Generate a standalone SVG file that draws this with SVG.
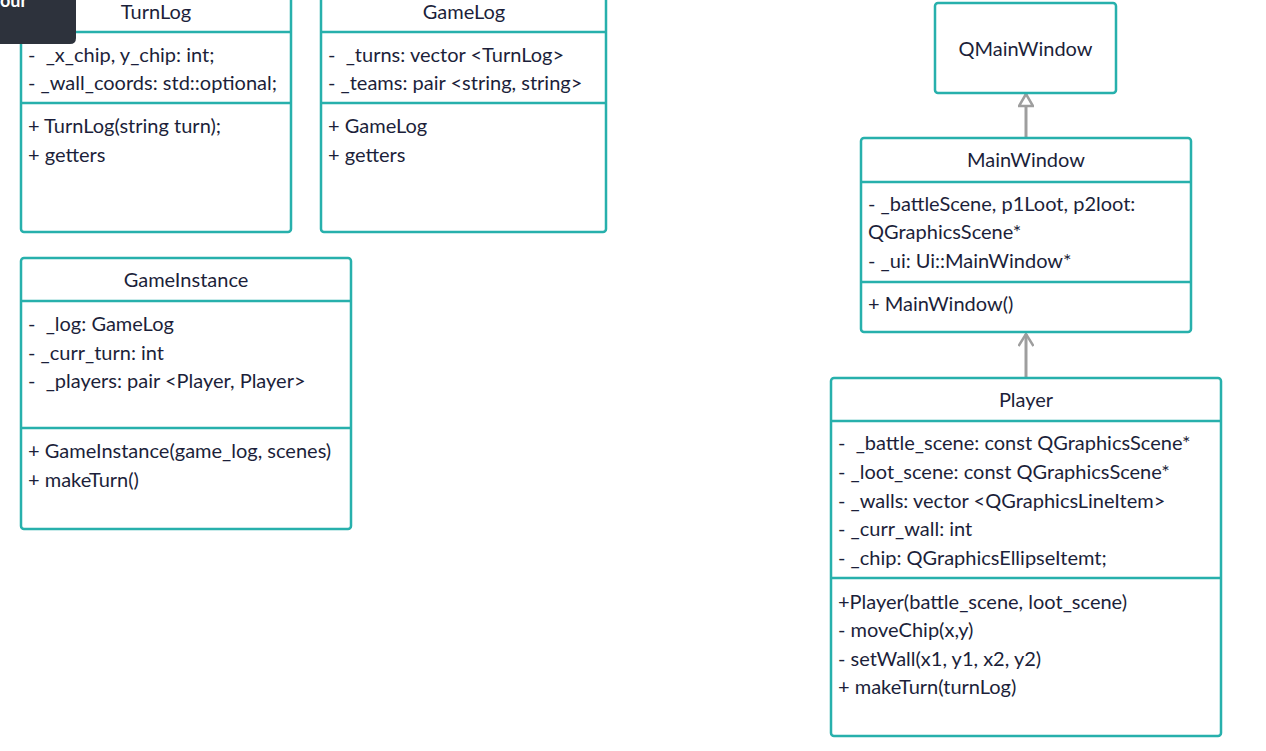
<svg xmlns="http://www.w3.org/2000/svg" width="1266" height="751" viewBox="0 0 1266 751">
<defs>
<style>
.box{fill:#fff;stroke:#27b0ac;stroke-width:2.5}
.sep{stroke:#27b0ac;stroke-width:2.5}
text{font-family:Lato,"Open Sans","Liberation Sans",sans-serif;font-size:20px;fill:#1c1f3a;white-space:pre}
.c{text-anchor:middle}
.conn{stroke:#9e9e9e;stroke-width:3;fill:none}
</style>
<marker id="tri" viewBox="0 0 16 16" refX="14" refY="8" markerWidth="16" markerHeight="16" markerUnits="userSpaceOnUse" orient="auto">
<path d="M14,8 L2,1 L2,15 Z" fill="#fff" stroke="#9e9e9e" stroke-width="2.5"/>
</marker>
<marker id="open" viewBox="0 0 16 16" refX="14" refY="8" markerWidth="16" markerHeight="16" markerUnits="userSpaceOnUse" orient="auto">
<path d="M2,0.5 L14,8 L2,15.5" fill="none" stroke="#9e9e9e" stroke-width="2.5"/>
</marker>
</defs>
<rect width="1266" height="751" fill="#fff"/>

<g id="connectors">
<line class="conn" x1="1026" y1="137" x2="1026" y2="94" marker-end="url(#tri)"/>
<line class="conn" x1="1026" y1="377" x2="1026" y2="334" marker-end="url(#open)"/>
</g>

<g id="TurnLog">
<rect class="box" x="21" y="-11" width="270" height="243" rx="3"/>
<line class="sep" x1="21" y1="32" x2="291" y2="32"/>
<line class="sep" x1="21" y1="103" x2="291" y2="103"/>
<text class="c" x="156" y="19">TurnLog</text>
<text x="28" y="62">-  _x_chip, y_chip: int;</text>
<text x="28" y="90">- _wall_coords: std::optional;</text>
<text x="28" y="133">+ TurnLog(string turn);</text>
<text x="28" y="162">+ getters</text>
</g>

<g id="GameLog">
<rect class="box" x="321" y="-11" width="285" height="243" rx="3"/>
<line class="sep" x1="321" y1="32" x2="606" y2="32"/>
<line class="sep" x1="321" y1="103" x2="606" y2="103"/>
<text class="c" x="464" y="19">GameLog</text>
<text x="328" y="62">-  _turns: vector &lt;TurnLog&gt;</text>
<text x="328" y="90">- _teams: pair &lt;string, string&gt;</text>
<text x="328" y="133">+ GameLog</text>
<text x="328" y="162">+ getters</text>
</g>

<g id="GameInstance">
<rect class="box" x="21" y="258" width="330" height="271" rx="3"/>
<line class="sep" x1="21" y1="301" x2="351" y2="301"/>
<line class="sep" x1="21" y1="428" x2="351" y2="428"/>
<text class="c" x="186" y="287">GameInstance</text>
<text x="28" y="331">-  _log: GameLog</text>
<text x="28" y="360">- _curr_turn: int</text>
<text x="28" y="388">-  _players: pair &lt;Player, Player&gt;</text>
<text x="28" y="458">+ GameInstance(game_log, scenes)</text>
<text x="28" y="487">+ makeTurn()</text>
</g>

<g id="QMainWindow">
<rect class="box" x="935" y="3" width="181" height="90" rx="3"/>
<text class="c" x="1025.5" y="56">QMainWindow</text>
</g>

<g id="MainWindow">
<rect class="box" x="861" y="138" width="330" height="194" rx="3"/>
<line class="sep" x1="861" y1="182" x2="1191" y2="182"/>
<line class="sep" x1="861" y1="282" x2="1191" y2="282"/>
<text class="c" x="1026" y="167">MainWindow</text>
<text x="868" y="211">- _battleScene, p1Loot, p2loot:</text>
<text x="868" y="239">QGraphicsScene*</text>
<text x="868" y="268">- _ui: Ui::MainWindow*</text>
<text x="868" y="311">+ MainWindow()</text>
</g>

<g id="Player">
<rect class="box" x="831" y="378" width="390" height="358" rx="3"/>
<line class="sep" x1="831" y1="421" x2="1221" y2="421"/>
<line class="sep" x1="831" y1="578" x2="1221" y2="578"/>
<text class="c" x="1026" y="407">Player</text>
<text x="838" y="450">-  _battle_scene: const QGraphicsScene*</text>
<text x="838" y="479">- _loot_scene: const QGraphicsScene*</text>
<text x="838" y="508">- _walls: vector &lt;QGraphicsLineItem&gt;</text>
<text x="838" y="536">- _curr_wall: int</text>
<text x="838" y="565">- _chip: QGraphicsEllipseItemt;</text>
<text x="838" y="609">+Player(battle_scene, loot_scene)</text>
<text x="838" y="637">- moveChip(x,y)</text>
<text x="838" y="666">- setWall(x1, y1, x2, y2)</text>
<text x="838" y="694">+ makeTurn(turnLog)</text>
</g>

<g id="tooltip">
<path d="M0,0 H76 V38 Q76,44 70,44 H0 Z" fill="#2d323c"/>
<text x="0" y="7" style="fill:#fff;font-weight:bold;font-size:18px">our</text>
</g>
</svg>
